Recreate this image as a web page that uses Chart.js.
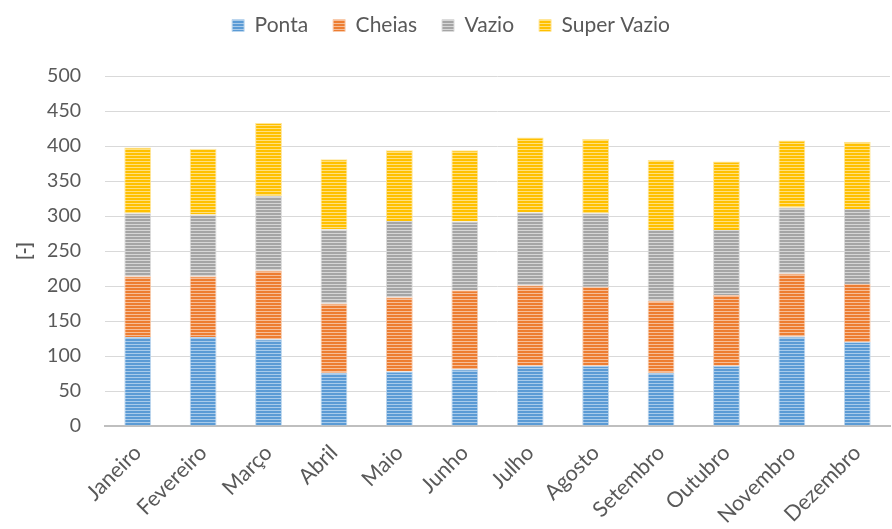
<!DOCTYPE html>
<html>
<head>
<meta charset="utf-8">
<script src="https://cdn.jsdelivr.net/npm/chart.js@4"></script>
<style>
    html, body { margin: 0; padding: 0; background: #ffffff; }
    #wrap { width: 892px; height: 529px; }
</style>
</head>
<body>
<div id="wrap"><canvas id="energyChart" width="892" height="529"></canvas></div>
<script>
// Months (x axis)
const months = ['Janeiro', 'Fevereiro', 'Março', 'Abril', 'Maio', 'Junho', 'Julho', 'Agosto', 'Setembro', 'Outubro', 'Novembro', 'Dezembro'];

// Stacked values
const ponta      = [127, 127, 124, 76, 78, 81, 86, 86, 76, 86, 128, 120];
const cheias     = [87, 87, 98, 99, 106, 113, 115, 113, 103, 101, 90, 83];
const vazio      = [90, 88, 107, 106, 109, 98, 104, 105, 101, 93, 94, 107];
const superVazio = [94, 94, 104, 100, 101, 102, 107, 106, 100, 98, 96, 96];

// Y axis ticks
const yTicks = [0, 50, 100, 150, 200, 250, 300, 350, 400, 450, 500];

const textColor = '#595959';

// horizontal stripe fill, like the office-style bars
function stripes(base, light) {
    const c = document.createElement('canvas');
    c.width = 4;
    c.height = 3;
    const g = c.getContext('2d');
    g.fillStyle = base;
    g.fillRect(0, 0, 4, 3);
    g.fillStyle = light;
    g.fillRect(0, 2, 4, 1);
    return g.createPattern(c, 'repeat');
}

// leave more room between the legend and the plot
const legendGap = {
    id: 'legendGap',
    beforeInit(chart) {
        const origFit = chart.legend.fit;
        chart.legend.fit = function () {
            origFit.call(this);
            this.height += 30;
        };
    }
};

const ctx = document.getElementById('energyChart').getContext('2d');

new Chart(ctx, {
    type: 'bar',
    data: {
        labels: months,
        datasets: [
            { label: 'Ponta', data: ponta, backgroundColor: stripes('#5B9BD5', '#A9CBEA'), borderColor: '#BCD6EE' },
            { label: 'Cheias', data: cheias, backgroundColor: stripes('#ED7D31', '#F6BE98'), borderColor: '#F8CBAD' },
            { label: 'Vazio', data: vazio, backgroundColor: stripes('#A5A5A5', '#D6D6D6'), borderColor: '#DBDBDB' },
            { label: 'Super Vazio', data: superVazio, backgroundColor: stripes('#FFC000', '#FFE080'), borderColor: '#FFE699' }
        ]
    },
    plugins: [legendGap],
    options: {
        responsive: false,
        animation: false,
        layout: { padding: { left: 12, right: 2, top: -10, bottom: 0 } },
        datasets: {
            bar: {
                borderWidth: 1,
                categoryPercentage: 1,
                barPercentage: 0.41
            }
        },
        plugins: {
            legend: {
                position: 'top',
                labels: {
                    color: textColor,
                    font: { family: 'Lato', size: 21 },
                    boxWidth: 12,
                    boxHeight: 12,
                    padding: 25
                }
            },
            tooltip: { enabled: false }
        },
        scales: {
            x: {
                stacked: true,
                grid: { display: false, drawTicks: false },
                border: { color: '#BFBFBF', width: 2 },
                // rotated month labels may hang past the plot edge
                afterFit: scale => {
                    scale.paddingLeft = 0;
                    scale.paddingRight = 0;
                    scale.height = 103;
                },
                ticks: {
                    color: textColor,
                    font: { family: 'Lato', size: 21.5 },
                    minRotation: 45,
                    maxRotation: 45,
                    padding: 14
                }
            },
            y: {
                stacked: true,
                min: 0,
                max: 500,
                afterBuildTicks: axis => { axis.ticks = yTicks.map(v => ({ value: v })); },
                afterFit: scale => { scale.width = 93; },
                grid: { color: '#D9D9D9', lineWidth: 1, drawTicks: false },
                border: { display: false },
                ticks: {
                    color: textColor,
                    font: { family: 'Lato', size: 19.5 },
                    padding: 24
                },
                title: {
                    display: true,
                    text: '[-]',
                    color: textColor,
                    font: { family: 'Lato', size: 18, weight: 'bold' },
                    padding: { top: 2, bottom: 10 }
                }
            }
        }
    }
});
</script>
</body>
</html>
